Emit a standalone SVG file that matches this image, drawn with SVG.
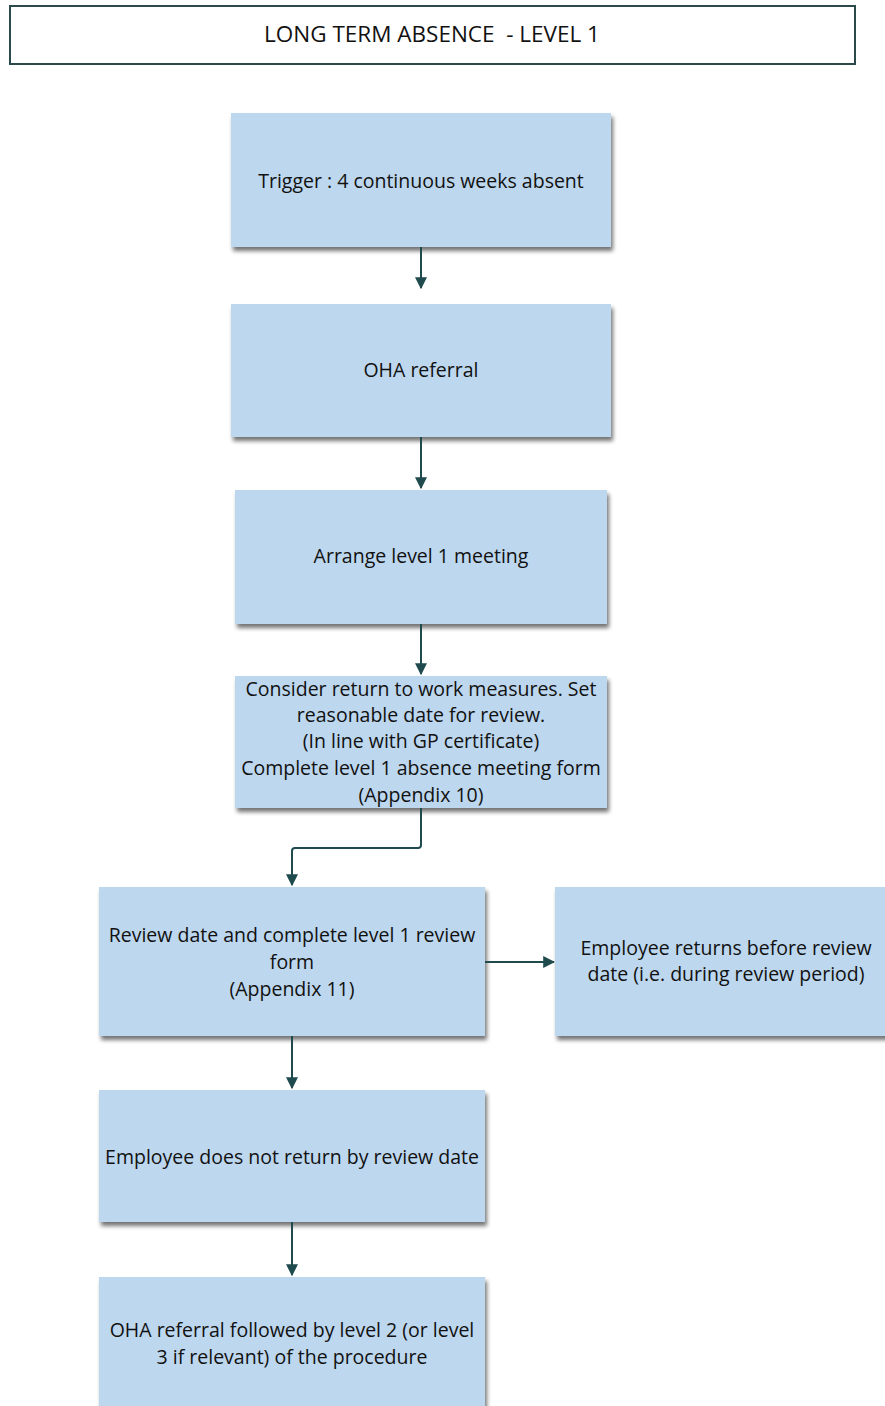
<svg xmlns="http://www.w3.org/2000/svg" width="885" height="1406" viewBox="0 0 885 1406">
<defs>
<filter id="sh" x="-5%" y="-5%" width="115%" height="120%">
<feGaussianBlur in="SourceAlpha" stdDeviation="2"/>
<feOffset dx="2" dy="4" result="b"/>
<feComponentTransfer><feFuncA type="linear" slope="0.55"/></feComponentTransfer>
<feMerge><feMergeNode/><feMergeNode in="SourceGraphic"/></feMerge>
</filter>
<marker id="ah" viewBox="0 0 10 10" refX="9" refY="5" markerWidth="6" markerHeight="6" orient="auto" markerUnits="strokeWidth">
<path d="M0,0 L10,5 L0,10 Z" fill="#1f4b4f"/>
</marker>
<style>
.box{fill:#bdd7ee;filter:url(#sh)}
.t{font-family:"Open Sans","Liberation Sans",Arial,sans-serif;font-size:19.5px;fill:#111;text-anchor:middle}
.ttl{font-size:22.5px;white-space:pre}
.c{fill:none;stroke:#1f4b4f;stroke-width:2;marker-end:url(#ah)}
</style>
</defs>
<rect width="885" height="1406" fill="#fff"/>
<g id="title">
<rect x="10" y="6" width="845" height="58" fill="#fff" stroke="#2b4a4c" stroke-width="2"/>
<text class="t ttl" x="432" y="42" xml:space="preserve">LONG TERM ABSENCE  - LEVEL 1</text>
</g>
<g id="n1"><rect class="box" x="231" y="113" width="380" height="134"/><text class="t" x="421" y="188">Trigger : 4 continuous weeks absent</text></g>
<g id="n2"><rect class="box" x="231" y="304" width="380" height="133"/><text class="t" x="421" y="377">OHA referral</text></g>
<g id="n3"><rect class="box" x="235" y="490" width="372" height="134"/><text class="t" x="421" y="563">Arrange level 1 meeting</text></g>
<g id="n4"><rect class="box" x="235" y="676" width="372" height="132"/>
<text class="t" x="421" y="696">Consider return to work measures. Set</text>
<text class="t" x="421" y="722">reasonable date for review.</text>
<text class="t" x="421" y="748">(In line with GP certificate)</text>
<text class="t" x="421" y="775">Complete level 1 absence meeting form</text>
<text class="t" x="421" y="802">(Appendix 10)</text></g>
<g id="n5"><rect class="box" x="99" y="887" width="386" height="149"/>
<text class="t" x="292" y="942">Review date and complete level 1 review</text>
<text class="t" x="292" y="969">form</text>
<text class="t" x="292" y="996">(Appendix 11)</text></g>
<g id="n6"><rect class="box" x="555" y="887" width="340" height="149"/>
<text class="t" x="726" y="955">Employee returns before review</text>
<text class="t" x="726" y="981">date (i.e. during review period)</text></g>
<g id="n7"><rect class="box" x="99" y="1090" width="386" height="132"/><text class="t" x="292" y="1164">Employee does not return by review date</text></g>
<g id="n8"><rect class="box" x="99" y="1277" width="386" height="140"/>
<text class="t" x="292" y="1337">OHA referral followed by level 2 (or level</text>
<text class="t" x="292" y="1364">3 if relevant) of the procedure</text></g>
<g id="connectors">
<path class="c" d="M421,247 V288"/>
<path class="c" d="M421,437 V488"/>
<path class="c" d="M421,624 V674"/>
<path class="c" d="M421,808 V845 Q421,848 418,848 H295 Q292,848 292,851 V885"/>
<path class="c" d="M485,962 H554"/>
<path class="c" d="M292,1036 V1088"/>
<path class="c" d="M292,1222 V1275"/>
</g>
</svg>
